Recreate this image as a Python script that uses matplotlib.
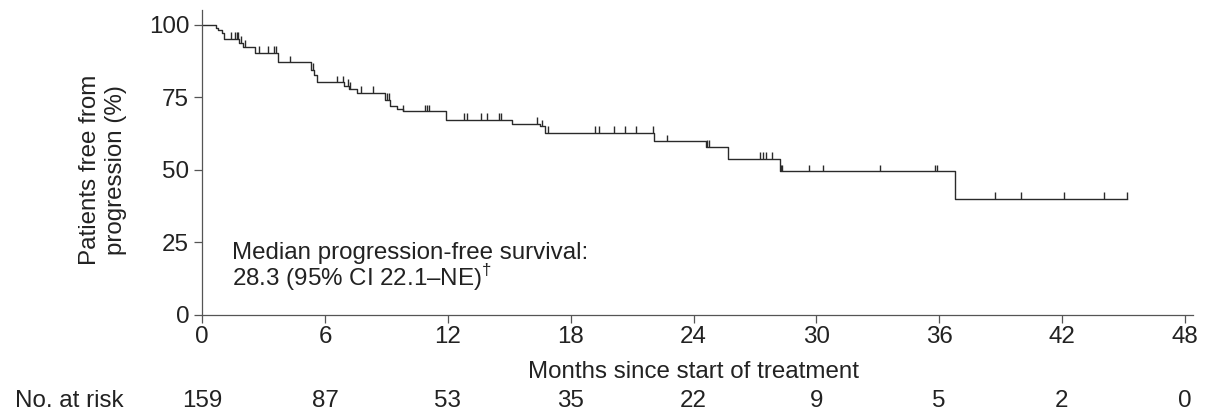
import numpy as np
import matplotlib
matplotlib.use("Agg")
import matplotlib.pyplot as plt
from matplotlib.transforms import blended_transform_factory

plt.rcParams['font.family'] = ['Liberation Sans', 'DejaVu Sans']
plt.rcParams['mathtext.fontset'] = 'custom'
plt.rcParams['mathtext.rm'] = 'Liberation Sans'

# Kaplan-Meier step events (months, % progression-free)
event_months = [0, 0.65, 0.78, 0.95, 1.08, 1.81, 2.0, 2.58, 3.72, 5.30, 5.45, 5.59,
                6.93, 7.19, 7.55, 8.93, 9.17, 9.51, 9.83, 11.92, 15.13, 16.51,
                16.76, 22.09, 24.62, 25.69, 28.22, 36.76]
event_pct = [100, 98.9, 98.1, 97.2, 95.1, 93.7, 92.3, 90.2, 87.0, 84.5, 82.5, 80.1,
             79.0, 77.8, 76.4, 74.1, 71.8, 70.9, 70.1, 67.2, 65.9, 64.9,
             62.7, 59.8, 57.8, 53.8, 49.4, 39.9]
last_followup = 45.17

# censored patients
censor_months = [1.39, 1.60, 1.68, 1.76, 1.88, 2.09, 2.79, 3.20, 3.52, 3.60, 4.29,
                 5.43, 6.60, 6.86, 7.14, 7.22, 7.75, 8.36, 9.02, 9.10, 9.83,
                 10.89, 10.97, 11.10, 12.81, 12.93, 13.61, 13.91, 14.52, 14.59,
                 16.35, 16.60, 16.87, 19.20, 19.37, 20.13, 20.67, 21.21, 22.02,
                 22.71, 24.67, 24.78, 27.24, 27.40, 27.56, 27.81, 28.25, 28.30,
                 29.63, 30.33, 33.10, 35.78, 35.88, 38.71, 39.99, 42.08, 44.06,
                 45.17]

x_ticks = [0, 6, 12, 18, 24, 30, 36, 42, 48]
at_risk = [159, 87, 53, 35, 22, 9, 5, 2, 0]
y_ticks = [0, 25, 50, 75, 100]

txt = '#222222'
axis_col = '#555555'
fs = 17.4

fig = plt.figure(figsize=(12.06, 4.16), dpi=100)
ax = fig.add_axes([0.1677, 0.2428, 0.8215, 0.7332])

t = np.array(event_months + [last_followup])
s = np.array(event_pct + [event_pct[-1]])
ax.step(t, s, where='post', color='#2a2a2a', lw=1.0)

# censor ticks sit on the curve
cm = np.array(censor_months)
idx = np.searchsorted(np.array(event_months), cm, side='right') - 1
cv = np.array(event_pct)[idx]
ax.vlines(cm, cv, cv + 2.3, color='#2a2a2a', lw=1.0)

ax.set_xlim(0, 48.4)
ax.set_ylim(0, 105)
ax.set_xticks(x_ticks)
ax.set_yticks(y_ticks)
for side in ['top', 'right']:
    ax.spines[side].set_visible(False)
for side in ['left', 'bottom']:
    ax.spines[side].set_color(axis_col)
    ax.spines[side].set_linewidth(0.9)
ax.tick_params(axis='both', colors=axis_col, labelcolor=txt, labelsize=fs,
               length=5.5, width=0.9)
ax.tick_params(axis='x', pad=2.5)
ax.tick_params(axis='y', pad=4)

fig.text(0.0854, 0.591, 'Patients free from\nprogression (%)', rotation=90,
         ha='center', va='center', multialignment='center', fontsize=fs,
         color=txt, linespacing=1.2)

ax.text(1.45, 21.4, 'Median progression-free survival:', fontsize=fs, color=txt,
        va='center', ha='left')
ax.text(1.45, 13.0, '28.3 (95% CI 22.1\u2013NE)$^{\u2020}$', fontsize=fs, color=txt,
        va='center', ha='left')

tr = blended_transform_factory(ax.transData, fig.transFigure)
fig.text(0.5752, 0.1058, 'Months since start of treatment', ha='center',
         va='center', fontsize=fs, color=txt)
fig.text(15 / 1206, 0.0349, 'No. at risk', ha='left', va='center', fontsize=fs,
         color=txt)
for xt, n in zip(x_ticks, at_risk):
    ax.text(xt, 0.0349, str(n), transform=tr, ha='center', va='center',
            fontsize=fs, color=txt)

fig.savefig('out.png', dpi=100)
